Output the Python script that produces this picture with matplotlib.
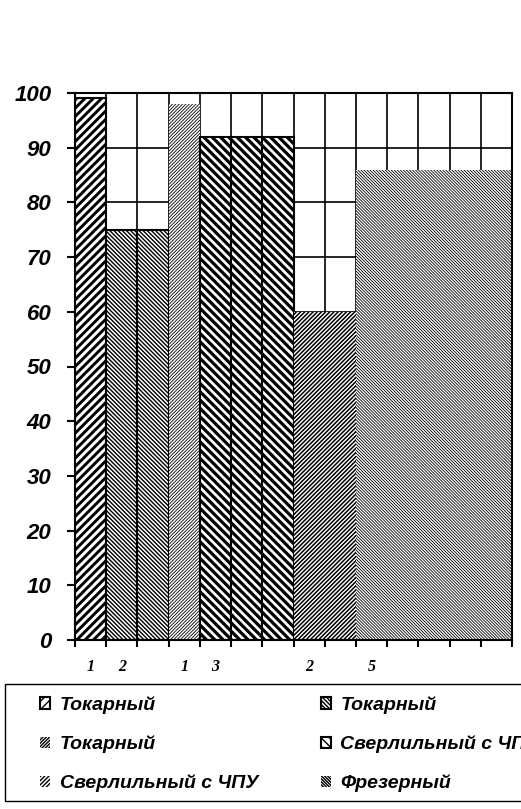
import matplotlib.pyplot as plt
from matplotlib.patches import Rectangle

# machine groups (one hatched group of bars per machine type)
groups = ['Токарный', 'Токарный', 'Токарный',
          'Сверлильный с ЧПУ', 'Сверлильный с ЧПУ', 'Фрезерный']
counts = [1, 2, 1, 3, 2, 5]          # number of machines in the group
load = [99, 75, 98, 92, 60, 86]      # load, %
yticks = list(range(0, 101, 10))

hatches = ['/' * 4, '\\' * 8, '/' * 10, '\\' * 4, '/' * 8, '\\' * 11]
hatch_lw = [2.1, 1.0, 0.6, 2.3, 1.1, 0.6]
edged = [True, True, False, True, False, False]

fig = plt.figure(figsize=(5.21, 8.09), dpi=100)
ax = fig.add_axes([75/521, 1-640/809, (512-75)/521, (640-93)/809])

pos = 0
handles = []
centers = []
for name, n, v, h, hlw, e in zip(groups, counts, load, hatches, hatch_lw, edged):
    bars = ax.bar(range(pos, pos+n), [v]*n, width=1, align='edge',
                  color='white', edgecolor='black',
                  linewidth=1.5 if e else 0, hatch=h, zorder=2, label=name)
    for b in bars:
        if hasattr(b, 'set_hatch_linewidth'):
            b.set_hatch_linewidth(hlw)
    handles.append(bars[0])
    centers.append(pos + 0.5)
    pos += n

ax.set_xlim(0, pos)
ax.set_ylim(0, 100)
ax.set_axisbelow(True)
ax.grid(True, color='black', lw=1.2)
ax.set_xticks(range(pos + 1))
ax.set_xticklabels([])
ax.set_xticks(centers, [str(c) for c in counts], minor=True)
ax.set_yticks(yticks)

for s in ax.spines.values():
    s.set_linewidth(1.5)
ax.tick_params(axis='x', which='major', length=5, width=1.5, direction='out')
ax.tick_params(axis='x', which='minor', length=0, pad=14)
ax.tick_params(axis='y', length=6, width=1.5, pad=11)

for lab in ax.get_yticklabels():
    lab.set_fontfamily('Liberation Sans')
    lab.set_fontstyle('italic')
    lab.set_fontweight('bold')
    lab.set_fontsize(16)
for lab in ax.get_xticklabels(minor=True):
    lab.set_fontfamily('Liberation Serif')
    lab.set_fontstyle('italic')
    lab.set_fontweight('bold')
    lab.set_fontsize(11.5)

# legend box (cut off by the right edge like in the original)
fig.add_artist(Rectangle((5/521, 1-801/809), 2, (801-684)/809,
                         transform=fig.transFigure, fill=False,
                         edgecolor='black', lw=1))
order = [0, 2, 4, 1, 3, 5]
fig.legend([handles[i] for i in order], [groups[i] for i in order],
           loc='upper left', bbox_to_anchor=(40/521, 1-696/809), ncol=2,
           frameon=False, borderpad=0, borderaxespad=0,
           handlelength=0.52, handleheight=0.52, handletextpad=0.5,
           labelspacing=1.1, columnspacing=3.2,
           prop={'family': 'Liberation Sans', 'style': 'italic',
                 'weight': 'bold', 'size': 14})

fig.savefig('out.png', dpi=100)
